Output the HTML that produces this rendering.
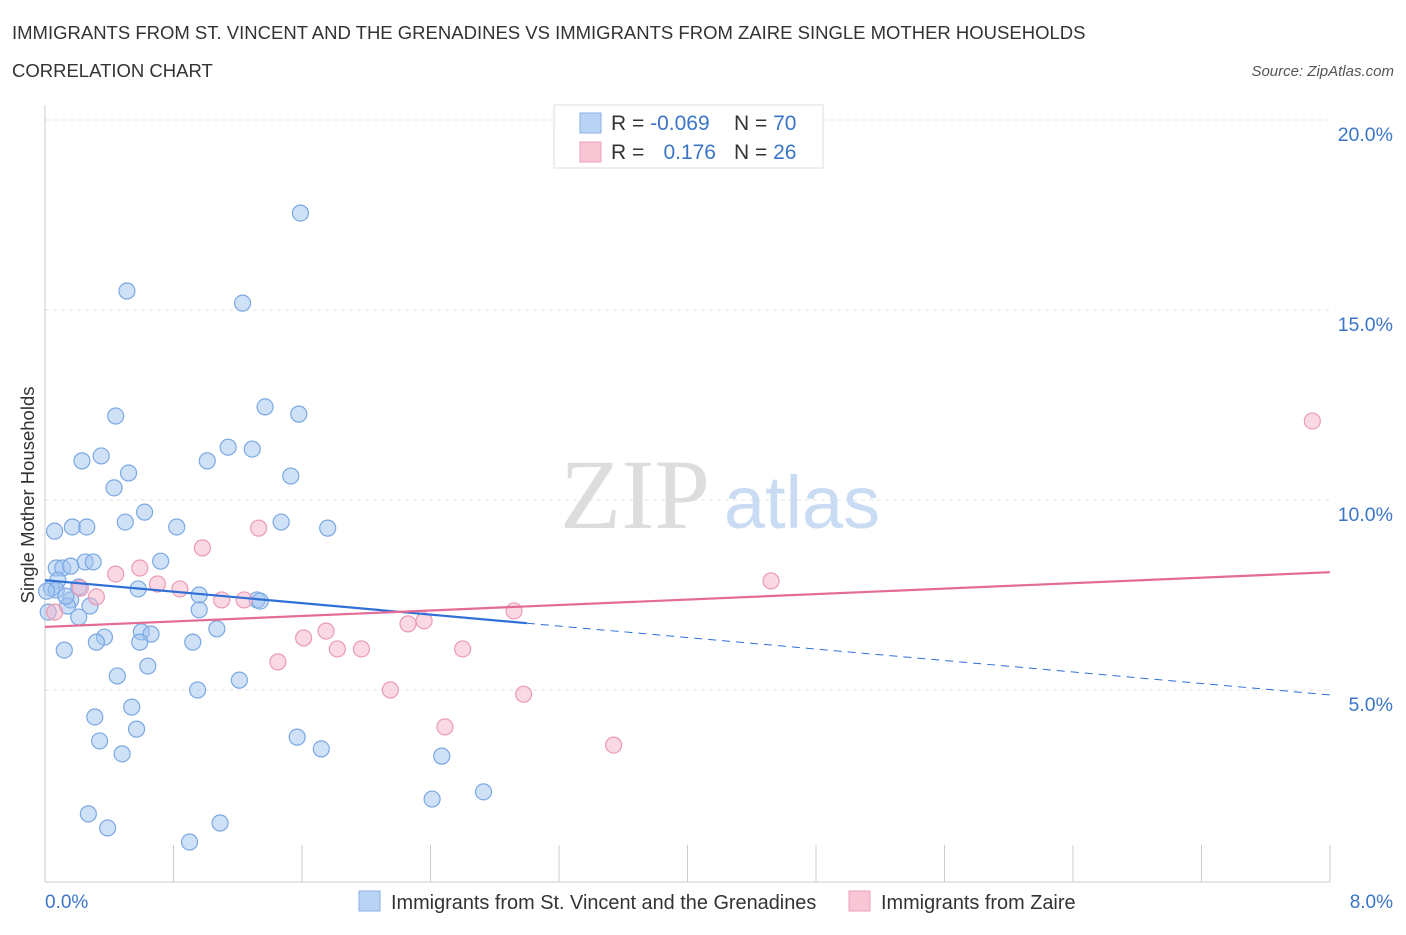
<!DOCTYPE html>
<html><head><meta charset="utf-8"><style>
body{margin:0;background:#fff;font-family:"Liberation Sans",sans-serif;}
</style></head><body>
<svg width="1406" height="930" xmlns="http://www.w3.org/2000/svg" font-family="Liberation Sans, sans-serif">
<text x="12" y="39" font-size="18.5" fill="#333">IMMIGRANTS FROM ST. VINCENT AND THE GRENADINES VS IMMIGRANTS FROM ZAIRE SINGLE MOTHER HOUSEHOLDS</text>
<text x="12" y="77" font-size="18.5" fill="#333">CORRELATION CHART</text>
<text x="1394" y="76" font-size="15" fill="#555" font-style="italic" text-anchor="end">Source: ZipAtlas.com</text>
<g id="grid"></g>
<text x="635" y="528" font-size="100" fill="#ddd" font-family="Liberation Serif, serif" text-anchor="middle">ZIP</text>
<text x="802" y="528" font-size="74" fill="#c9dcf3" text-anchor="middle">atlas</text>
<text transform="translate(34,495) rotate(-90)" font-size="18.5" fill="#333" text-anchor="middle">Single Mother Households</text>
<g id="marks"></g>
<g>
<rect x="554" y="105" width="269" height="63" fill="#fff" stroke="#ddd"/>
<rect x="580" y="113" width="21" height="20" fill="#b9d3f5" stroke="#8ab2e8"/>
<rect x="580" y="142" width="21" height="20" fill="#f8c6d5" stroke="#ee9fb8"/>
<text x="611" y="130" font-size="21" fill="#333">R = <tspan fill="#3a75c8">-0.069</tspan></text>
<text x="734" y="130" font-size="21" fill="#333">N = <tspan fill="#3a75c8">70</tspan></text>
<text x="611" y="159" font-size="21" fill="#333">R = </text>
<text x="716" y="159" font-size="21" fill="#3a75c8" text-anchor="end">0.176</text>
<text x="734" y="159" font-size="21" fill="#333">N = <tspan fill="#3a75c8">26</tspan></text>
</g>
<g>
<rect x="359" y="891" width="21" height="20" fill="#b9d3f5" stroke="#8ab2e8"/>
<text x="391" y="909" font-size="19.9" fill="#333">Immigrants from St. Vincent and the Grenadines</text>
<rect x="849" y="891" width="21" height="20" fill="#f8c6d5" stroke="#ee9fb8"/>
<text x="881" y="909" font-size="19.9" fill="#333">Immigrants from Zaire</text>
</g>
</svg>
<script>
const xTicks=[0,0.8,1.6,2.4,3.2,4,4.8,5.6,6.4,7.2,8];
const yTicks=[5,10,15,20];
const yTickLabels=["5.0%","10.0%","15.0%","20.0%"];
const blueX=[1.59,0.51,1.23,1.37,0.44,1.58,1.14,1.29,0.35,0.23,1.01,0.52,1.53,0.43,0.62,0.50,0.17,0.26,0.82,1.47,1.76,0.06,0.72,0.25,0.30,0.07,0.11,0.16,0.08,0.04,0.21,0.58,0.96,1.32,1.34,0.16,0.28,0.14,0.96,0.02,0.21,1.07,0.60,0.66,0.37,0.32,0.59,0.92,0.12,0.64,0.45,1.21,0.95,0.54,0.31,0.57,0.34,1.57,1.72,0.48,2.47,2.73,2.41,0.27,1.09,0.39,0.90,0.07,0.13,0.01];
const blueY=[17.55,15.5,15.18,12.45,12.21,12.26,11.39,11.34,11.16,11.03,11.03,10.71,10.63,10.32,9.68,9.42,9.29,9.29,9.29,9.42,9.26,9.18,8.39,8.37,8.37,8.21,8.21,8.26,7.89,7.68,7.71,7.66,7.5,7.37,7.34,7.37,7.21,7.21,7.11,7.05,6.92,6.61,6.53,6.47,6.39,6.26,6.26,6.26,6.05,5.63,5.37,5.26,5.0,4.55,4.29,3.97,3.66,3.76,3.45,3.32,3.26,2.32,2.13,1.74,1.5,1.37,1.0,7.63,7.47,7.6];
const pinkX=[7.89,1.33,0.98,0.44,0.59,4.52,0.70,0.84,0.22,0.32,1.10,1.24,2.92,2.36,2.26,1.75,1.61,1.82,1.97,2.60,1.45,2.15,2.98,2.49,3.54,0.06];
const pinkY=[12.08,9.26,8.74,8.05,8.21,7.87,7.79,7.66,7.68,7.45,7.37,7.37,7.08,6.82,6.74,6.55,6.37,6.08,6.08,6.08,5.74,5.0,4.89,4.03,3.55,7.05];
const blueTrend=[7.89,4.87]; const blueSolidEnd=3.0;
const pinkTrend=[6.66,8.1];
const X=v=>45+v/8*1285, Y=v=>880-v*38;
const NS="http://www.w3.org/2000/svg";
function mk(p,t,a){const e=document.createElementNS(NS,t);for(const k in a)e.setAttribute(k,a[k]);p.appendChild(e);return e;}
const g=document.getElementById('grid'), m=document.getElementById('marks');
yTicks.forEach((t,i)=>{
 const l=mk(g,'line',{x1:45,x2:1330,y1:Y(t),y2:Y(t),stroke:'#e3e3e3','stroke-dasharray':'4,4'});
 
 
 const tx=mk(g,'text',{x:1393,y:Y(t)+21,'font-size':19.5,fill:'#3a75c8','text-anchor':'end'});
 tx.textContent=yTickLabels[i];
 
 
});
const ax=mk(g,'line',{x1:45,x2:45,y1:105,y2:882,stroke:'#ccc'});


const bx=mk(g,'line',{x1:45,x2:1330,y1:882,y2:882,stroke:'#ccc'});


xTicks.forEach(t=>{const l=mk(g,'line',{x1:X(t),x2:X(t),y1:845,y2:882,stroke:'#ccc'});
 
 });
[[0,'0.0%','start',45],[8,'8.0%','end',1393]].forEach(d=>{const tx=mk(g,'text',{x:d[3],y:908,'font-size':19,fill:'#3a75c8','text-anchor':d[2]});tx.textContent=d[1];
 
 });
blueX.forEach((v,i)=>{const c=mk(m,'circle',{cx:X(v),cy:Y(blueY[i]),r:8,fill:'rgba(160,195,240,0.5)',stroke:'#7aa8e3','stroke-width':1.2});
 
 });
pinkX.forEach((v,i)=>{const c=mk(m,'circle',{cx:X(v),cy:Y(pinkY[i]),r:8,fill:'rgba(246,180,202,0.5)',stroke:'#eb9ab4','stroke-width':1.2});
 
 });
const by=v=>blueTrend[0]+(blueTrend[1]-blueTrend[0])*v/8;
const t1=mk(m,'line',{x1:X(0),y1:Y(by(0)),x2:X(blueSolidEnd),y2:Y(by(blueSolidEnd)),stroke:'#2f6fd6','stroke-width':2.2});


const t2=mk(m,'line',{x1:X(blueSolidEnd),y1:Y(by(blueSolidEnd)),x2:X(8),y2:Y(by(8)),stroke:'#2f6fd6','stroke-width':1,'stroke-dasharray':'8,6'});


const t3=mk(m,'line',{x1:X(0),y1:Y(pinkTrend[0]),x2:X(8),y2:Y(pinkTrend[1]),stroke:'#e36b95','stroke-width':2.2});


</script>
</body></html>
